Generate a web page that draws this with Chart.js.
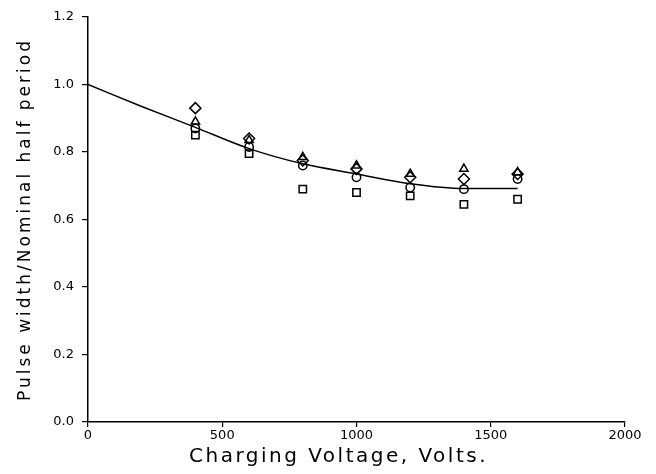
<!DOCTYPE html>
<html>
<head>
<meta charset="utf-8">
<script src="https://cdn.jsdelivr.net/npm/chart.js"></script>
<style>
  html, body { margin: 0; padding: 0; background: #fff; }
  #wrap { width: 656px; height: 474px; }
</style>
</head>
<body>
<div id="wrap"><canvas id="myChart"></canvas></div>
<script>
// charging voltages (V) where the pulses were measured
const voltages = [400, 600, 800, 1000, 1200, 1400, 1600];

// pulse width / nominal half period, one array per marker
const diamonds  = [0.93, 0.84, 0.775, 0.75, 0.725, 0.72, 0.735];
const triangles = [0.89, 0.835, 0.785, 0.76, 0.735, 0.75, 0.74];
const circles   = [0.87, 0.815, 0.76, 0.725, 0.695, 0.69, 0.72];
const squares   = [0.85, 0.795, 0.69, 0.68, 0.67, 0.645, 0.66];

// fitted curve
const fitVolts = [0, 200, 400, 600, 800, 1000, 1200, 1400, 1600];
const fitRatio = [1.0, 0.935, 0.873, 0.81, 0.765, 0.735, 0.706, 0.692, 0.692];

const xTicks = [0, 500, 1000, 1500, 2000];
const yTicks = [0, 0.2, 0.4, 0.6, 0.8, 1.0, 1.2];

function pts(xs, ys) {
    return xs.map(function(x, i) { return { x: x, y: ys[i] }; });
}

function markerSet(label, values, style, radius) {
    return {
        label: label,
        data: pts(voltages, values),
        pointStyle: style,
        pointRadius: radius,
        pointBorderWidth: 1.5,
        pointBorderColor: '#000',
        pointBackgroundColor: 'rgba(255,255,255,0)',
        showLine: false
    };
}

const font = "'DejaVu Sans', sans-serif";

// the scanned titles are spaced out, so widen the letters of the axis titles only
// (x title also sits a bit left of the plot centre in the original)
const spacedTitles = {
    id: 'spacedTitles',
    beforeDraw: function(chart) {
        ['x', 'y'].forEach(function(id) {
            var s = chart.scales[id];
            if (!s || s._spaced) return;
            var orig = s.drawTitle;
            s.drawTitle = function() {
                var ctx = this.ctx;
                ctx.save();
                ctx.letterSpacing = id === 'x' ? '2.5px' : '3px';
                if (id === 'x') ctx.translate(-18, 0);
                orig.apply(this, arguments);
                ctx.restore();
            };
            s._spaced = true;
        });
    }
};

var config = {
    type: 'scatter',
    data: {
        datasets: [
            {
                label: 'fit',
                data: pts(fitVolts, fitRatio),
                showLine: true,
                borderColor: '#000',
                borderWidth: 1.5,
                pointRadius: 0,
                tension: 0.4,
                cubicInterpolationMode: 'monotone'
            },
            markerSet('diamond', diamonds, 'rectRot', 5.5),
            markerSet('triangle', triangles, 'triangle', 4.8),
            markerSet('circle', circles, 'circle', 4.2),
            markerSet('square', squares, 'rect', 5.2)
        ]
    },
    plugins: [spacedTitles],
    options: {
        responsive: true,
        maintainAspectRatio: false,
        animation: false,
        layout: { padding: { top: 17, right: 31, left: 0, bottom: 0 } },
        plugins: {
            legend: { display: false },
            tooltip: { enabled: false }
        },
        scales: {
            x: {
                type: 'linear',
                min: 0,
                max: 2000,
                afterBuildTicks: function(scale) {
                    scale.ticks = xTicks.map(function(v) { return { value: v }; });
                },
                afterFit: function(scale) { scale.height = 52; },
                grid: { display: true, drawOnChartArea: false, drawTicks: true, tickLength: 5, color: '#000', lineWidth: 1.2 },
                border: { display: true, color: '#000', width: 1.5 },
                ticks: {
                    color: '#000',
                    font: { family: font, size: 13 },
                    padding: 1,
                    maxRotation: 0,
                    callback: function(v) { return String(v); }
                },
                title: {
                    display: true,
                    text: 'Charging Voltage, Volts.',
                    color: '#000',
                    font: { family: font, size: 20 },
                    padding: { top: 0, bottom: 5 }
                }
            },
            y: {
                type: 'linear',
                min: 0,
                max: 1.2,
                afterBuildTicks: function(scale) {
                    scale.ticks = yTicks.map(function(v) { return { value: v }; });
                },
                afterFit: function(scale) { scale.width = 88; },
                grid: { display: true, drawOnChartArea: false, drawTicks: true, tickLength: 6, color: '#000', lineWidth: 1.2 },
                border: { display: true, color: '#000', width: 1.5 },
                ticks: {
                    color: '#000',
                    font: { family: font, size: 13 },
                    padding: 8,
                    callback: function(v) { return v.toFixed(1); }
                },
                title: {
                    display: true,
                    text: 'Pulse width/Nominal half period',
                    color: '#000',
                    font: { family: font, size: 17 },
                    padding: { top: 15, bottom: 0 }
                }
            }
        }
    }
};

var myChart = new Chart(document.getElementById('myChart'), config);
</script>
</body>
</html>
